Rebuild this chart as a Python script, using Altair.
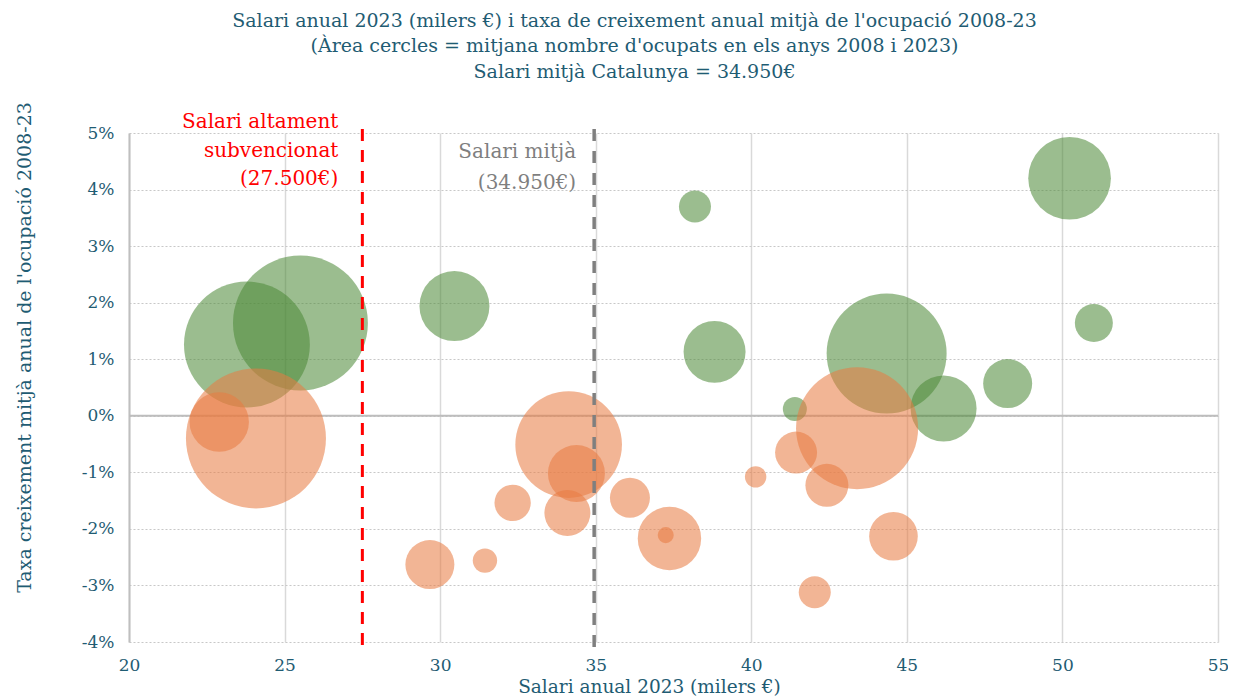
import altair as alt
import pandas as pd

# --- data ---
# green = positive employment growth, orange = negative
salari_verd = [23.79, 25.51, 30.46, 38.19, 38.82, 50.23, 51.01, 44.35, 48.24, 46.18, 41.40]
creix_verd = [1.26, 1.64, 1.94, 3.70, 1.13, 4.20, 1.64, 1.10, 0.57, 0.13, 0.12]
ocup_verd = [283, 325, 87.5, 18.3, 68.6, 122, 25.8, 257, 42.9, 77.8, 10.3]

salari_tar = [24.08, 22.90, 34.13, 34.38, 34.09, 32.33, 29.67, 31.44, 36.10, 37.37,
              37.25, 40.14, 41.44, 43.40, 42.43, 44.57, 42.04]
creix_tar = [-0.40, -0.11, -0.51, -1.02, -1.72, -1.54, -2.63, -2.56, -1.45, -2.17,
             -2.11, -1.08, -0.65, -0.22, -1.23, -2.13, -3.12]
ocup_tar = [350, 63, 203, 58, 37.8, 23.6, 42.9, 10.6, 28.6, 71.8,
            4.6, 8.2, 31.5, 266, 33, 42.2, 18.3]

x_ticks = [20, 25, 30, 35, 40, 45, 50, 55]
y_ticks = [-4, -3, -2, -1, 0, 1, 2, 3, 4, 5]

salari_subv = 27.5
salari_mitja = 34.95
text_subv = ["Salari altament", "subvencionat", "(27.500€)"]
text_mitja = ["Salari mitjà", "(34.950€)"]

titol = [
    "Salari anual 2023 (milers €) i taxa de creixement anual mitjà de l'ocupació 2008-23",
    "(Àrea cercles = mitjana nombre d'ocupats en els anys 2008 i 2023)",
    "Salari mitjà Catalunya = 34.950€",
]

# --- tables ---
df = pd.DataFrame({
    "salari": salari_verd + salari_tar,
    "creix": creix_verd + creix_tar,
    "ocupats": ocup_verd + ocup_tar,
    "signe": ["pos"] * len(salari_verd) + ["neg"] * len(salari_tar),
})
zero = pd.DataFrame({"creix": [0]})
ann_subv = pd.DataFrame({"salari": [salari_subv], "t": [text_subv]})
ann_mitja = pd.DataFrame({"salari": [salari_mitja], "t": [text_mitja]})

FONT = "DejaVu Serif"
TEAL = "#1F5C73"
W, H = 1089, 509

xscale = alt.Scale(domain=[20, 55], nice=False, zero=False)
yscale = alt.Scale(domain=[-4, 5], nice=False, zero=False)

points = alt.Chart(df).mark_circle(opacity=0.56).encode(
    x=alt.X("salari:Q", scale=xscale,
            axis=alt.Axis(values=x_ticks, title="Salari anual 2023 (milers €)",
                          grid=True, gridColor="#D9D9D9", gridWidth=1.5,
                          domain=False, ticks=False, labelPadding=15,
                          labelFlush=False,
                          labelFontSize=17, labelColor=TEAL, labelFont=FONT,
                          titleFont=FONT, titleFontSize=18.5, titleColor=TEAL,
                          titleFontWeight="normal", titleBaseline="middle",
                          titleX=520, titleY=44, titleAnchor="middle")),
    y=alt.Y("creix:Q", scale=yscale,
            axis=alt.Axis(values=y_ticks, labelExpr="datum.value + '%'",
                          title="Taxa creixement mitjà anual  de l'ocupació 2008-23",
                          grid=True, gridColor="#C8C8C8", gridWidth=1.2,
                          gridDash=[2, 2],
                          domain=True, domainColor="#BFBFBF", domainWidth=2,
                          ticks=False, labelPadding=15,
                          labelFontSize=17, labelColor=TEAL, labelFont=FONT,
                          titleFont=FONT, titleFontSize=19, titleColor=TEAL,
                          titleFontWeight="normal", titleAngle=270,
                          titleBaseline="middle", titleAlign="center",
                          titleX=-105, titleY=214)),
    size=alt.Size("ocupats:Q", scale=alt.Scale(type="linear", domain=[0, 350],
                                               range=[0, 19600]), legend=None),
    color=alt.Color("signe:N", scale=alt.Scale(domain=["pos", "neg"],
                                               range=["#4C8937", "#E87B42"]),
                    legend=None),
)

zero_line = alt.Chart(zero).mark_rule(color="#BDBDBD", strokeWidth=2).encode(
    y=alt.Y("creix:Q", scale=yscale)
)

line_subv = alt.Chart(ann_subv).mark_rule(
    strokeWidth=3, strokeDash=[12, 9], color="#FF0000"
).encode(
    x=alt.X("salari:Q", scale=xscale),
    y=alt.value(-4),
    y2=alt.value(H + 5),
)

line_mitja = alt.Chart(ann_mitja).mark_rule(
    strokeWidth=3.5, strokeDash=[12, 10], color="#7F7F7F"
).encode(
    x=alt.X("salari:Q", scale=xscale),
    y=alt.value(-4),
    y2=alt.value(H + 5),
)

txt_subv = alt.Chart(ann_subv).mark_text(
    align="right", baseline="middle", dx=-24, dy=-11, fontSize=20,
    lineHeight=28.5, font=FONT, color="#FF0000"
).encode(
    x=alt.X("salari:Q", scale=xscale),
    y=alt.value(0),
    text="t",
)

txt_mitja = alt.Chart(ann_mitja).mark_text(
    align="right", baseline="middle", dx=-18, dy=19, fontSize=20,
    lineHeight=31, font=FONT, color="#7F7F7F"
).encode(
    x=alt.X("salari:Q", scale=xscale),
    y=alt.value(0),
    text="t",
)

chart = alt.layer(zero_line, points, line_subv, line_mitja, txt_subv, txt_mitja).properties(
    width=W, height=H,
    title=alt.Title(text=titol, frame="group", anchor="middle", dx=-39, dy=29,
                    offset=27, baseline="bottom", fontSize=19, lineHeight=25.5,
                    font=FONT, color=TEAL, fontWeight="normal"),
    autosize=alt.AutoSizeParams(type="none"),
    padding={"left": 121, "top": 125, "right": 10, "bottom": 54},
).configure_view(stroke=None)

chart.save("out.html", embed_options={"renderer": "svg", "actions": False})
